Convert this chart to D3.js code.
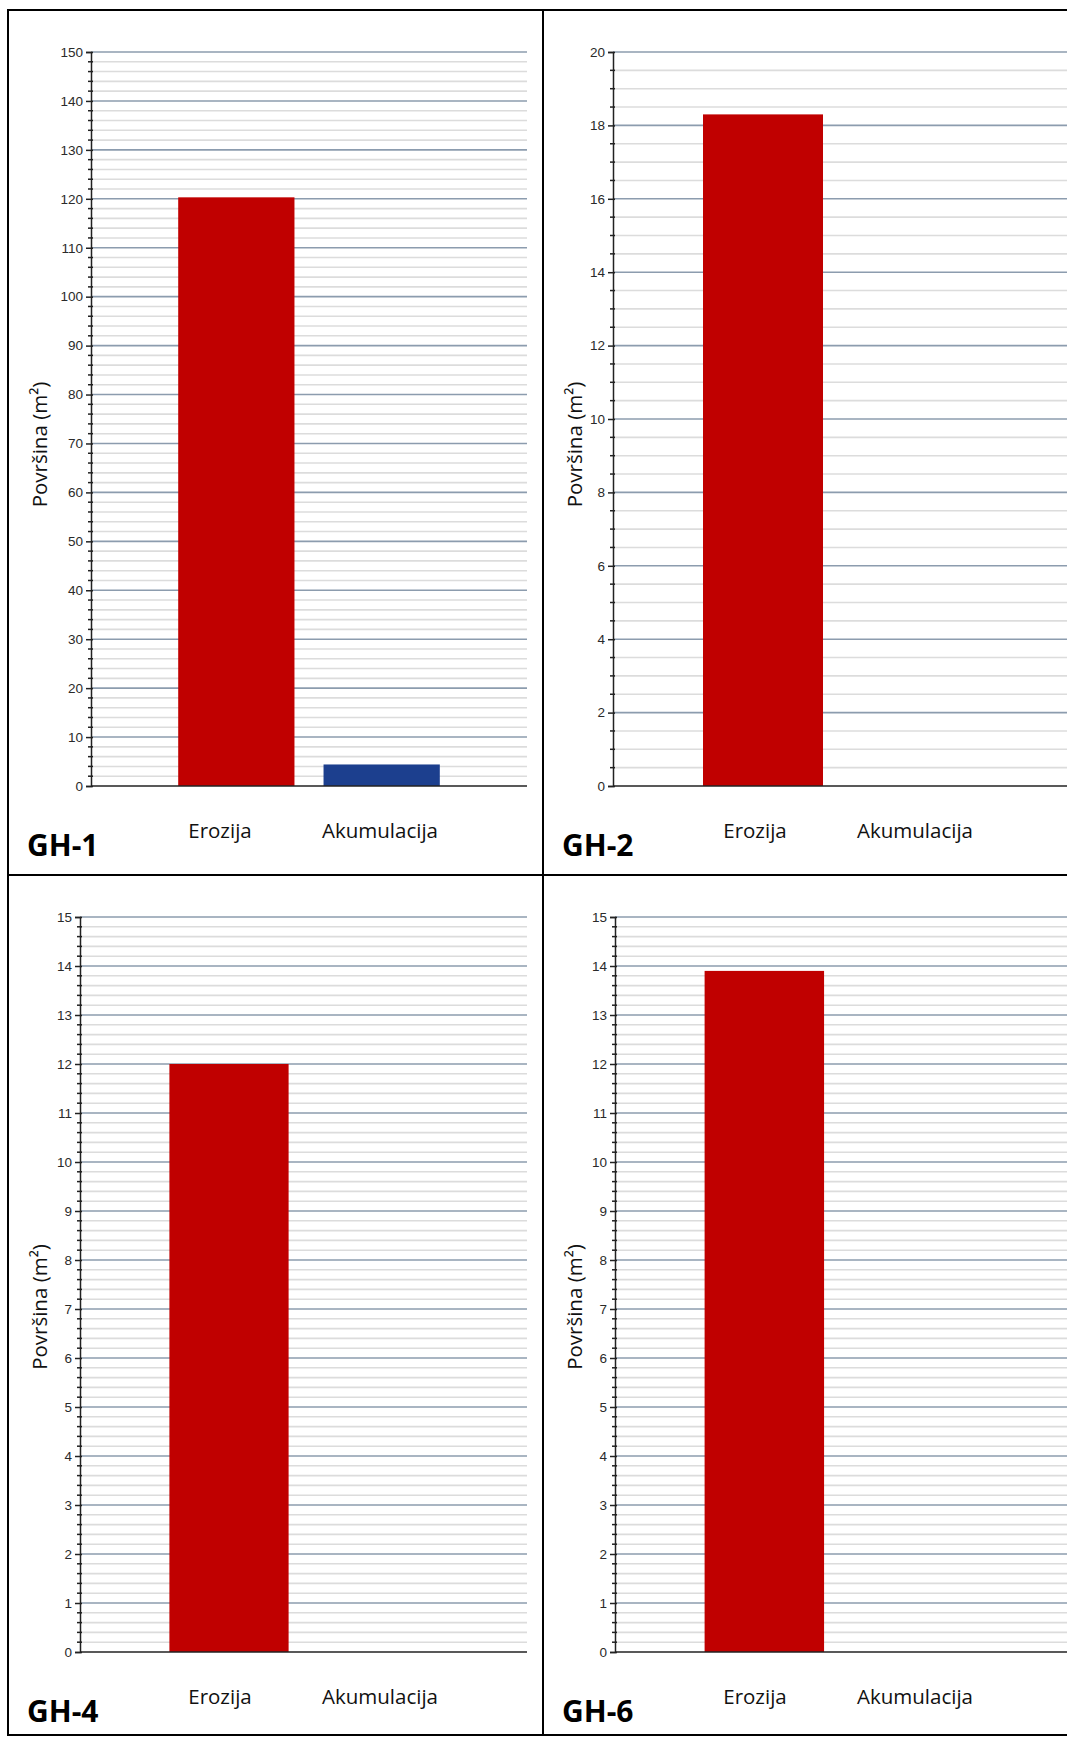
<!DOCTYPE html>
<html>
<head>
<meta charset="utf-8">
<script src="https://cdn.jsdelivr.net/npm/d3@7"></script>
<style>
  html, body { margin: 0; padding: 0; background: #fff; }
  svg { display: block; }
</style>
</head>
<body>
<svg id="chart" width="1067" height="1737"></svg>
<script>
// ---- data ----
const categories = ["Erozija", "Akumulacija"];
const sites = ["GH-1", "GH-2", "GH-4", "GH-6"];
const erozija = [120.3, 18.3, 12.0, 13.9];
const akumulacija = [4.4, 0, 0, 0];
const yMax = [150, 20, 15, 15];
const yMajorStep = [10, 2, 1, 1];
const yMinorStep = [2, 0.5, 0.2, 0.2];
const barColors = ["#c00000", "#1c3f8e"];
const yTitle = "Površina (m²)";

// ---- layout ----
const panels = [
  { x: 8,   y: 10,  w: 535, h: 865, px0: 91,  px1: 527, gridEnd: 527,  top: 52,  bottom: 786 },
  { x: 543, y: 10,  w: 530, h: 865, px0: 613, px1: 1063, gridEnd: 1070, top: 52,  bottom: 786 },
  { x: 8,   y: 875, w: 535, h: 860, px0: 80,  px1: 527, gridEnd: 527,  top: 917, bottom: 1652 },
  { x: 543, y: 875, w: 530, h: 860, px0: 615, px1: 1063, gridEnd: 1070, top: 917, bottom: 1652 }
];

const svg = d3.select("#chart");

panels.forEach((p, i) => {
  const g = svg.append("g");
  const values = [erozija[i], akumulacija[i]];

  const y = d3.scaleLinear().domain([0, yMax[i]]).range([p.bottom, p.top]);
  const x = d3.scalePoint().domain(categories).range([p.px0, p.px1]).padding(1);
  const step = x.step();
  const bw = step * 0.8;

  const nMinor = Math.round(yMax[i] / yMinorStep[i]);
  const minorTicks = d3.range(0, nMinor + 1).map(k => +(k * yMinorStep[i]).toFixed(4));
  const nMajor = Math.round(yMax[i] / yMajorStep[i]);
  const majorTicks = d3.range(0, nMajor + 1).map(k => +(k * yMajorStep[i]).toFixed(4));
  const isMajor = v => majorTicks.some(m => Math.abs(m - v) < 1e-6);

  // minor gridlines
  g.append("g").selectAll("line").data(minorTicks.filter(v => !isMajor(v) && v > 0)).join("line")
    .attr("x1", p.px0).attr("x2", p.gridEnd)
    .attr("y1", d => y(d)).attr("y2", d => y(d))
    .attr("stroke", "#dcdcdc").attr("stroke-width", 1.6);
  // major gridlines
  g.append("g").selectAll("line").data(majorTicks.filter(v => v > 0)).join("line")
    .attr("x1", p.px0).attr("x2", p.gridEnd)
    .attr("y1", d => y(d)).attr("y2", d => y(d))
    .attr("stroke", "#8c9cae").attr("stroke-width", 1.6);

  // bars
  g.append("g").selectAll("rect").data(values.map((v, k) => ({ v, k }))).join("rect")
    .attr("x", d => x(categories[d.k]) - bw / 2)
    .attr("width", bw)
    .attr("y", d => y(d.v))
    .attr("height", d => p.bottom - y(d.v))
    .attr("fill", d => barColors[d.k]);

  // y axis with major ticks
  const axis = d3.axisLeft(y).tickValues(majorTicks).tickSize(5).tickPadding(3).tickFormat(d3.format("d"));
  const ag = g.append("g").attr("transform", `translate(${p.px0},0)`).call(axis);
  ag.select(".domain").attr("stroke", "#222").attr("stroke-width", 1.5);
  ag.selectAll(".tick line").attr("stroke", "#222").attr("stroke-width", 1.5).attr("x2", -5).attr("x1", 2);
  ag.selectAll(".tick text")
    .attr("font-family", "'Liberation Sans', Arial, sans-serif")
    .attr("font-size", 13.5).attr("fill", "#2a2a2a");
  // minor ticks
  g.append("g").selectAll("line").data(minorTicks.filter(v => !isMajor(v))).join("line")
    .attr("x1", p.px0 - 3).attr("x2", p.px0 + 2)
    .attr("y1", d => y(d)).attr("y2", d => y(d))
    .attr("stroke", "#222").attr("stroke-width", 1.5);

  // x axis baseline
  g.append("line")
    .attr("x1", p.px0).attr("x2", p.gridEnd)
    .attr("y1", y(0)).attr("y2", y(0))
    .attr("stroke", "#222").attr("stroke-width", 1.5);

  // y axis title
  const ty = p.y + p.h / 2 + 2;
  g.append("text")
    .attr("transform", `translate(${p.x + 39},${ty}) rotate(-90)`)
    .attr("text-anchor", "middle")
    .attr("font-family", "'Open Sans', sans-serif")
    .attr("font-size", 20.5).attr("fill", "#111")
    .text(yTitle);

  // category labels
  const lx = d3.scalePoint().domain(categories).range([p.x + 212, p.x + 372]);
  g.append("g").selectAll("text").data(categories).join("text")
    .attr("x", d => lx(d)).attr("y", p.bottom + 52)
    .attr("text-anchor", "middle")
    .attr("font-family", "'Open Sans', sans-serif")
    .attr("font-size", 20.5).attr("fill", "#111")
    .text(d => d);

  // panel title
  g.append("text")
    .attr("x", p.x + 19).attr("y", p.bottom + 70)
    .attr("font-family", "'Open Sans', sans-serif")
    .attr("font-weight", "bold")
    .attr("font-size", 30).attr("fill", "#000")
    .text(sites[i]);
});

// panel borders
svg.append("rect").attr("x", 8).attr("y", 10).attr("width", 1070).attr("height", 1725)
  .attr("fill", "none").attr("stroke", "#000").attr("stroke-width", 2);
svg.append("line").attr("x1", 543).attr("x2", 543).attr("y1", 10).attr("y2", 1735)
  .attr("stroke", "#000").attr("stroke-width", 2);
svg.append("line").attr("x1", 8).attr("x2", 1067).attr("y1", 875).attr("y2", 875)
  .attr("stroke", "#000").attr("stroke-width", 2);
</script>
</body>
</html>
